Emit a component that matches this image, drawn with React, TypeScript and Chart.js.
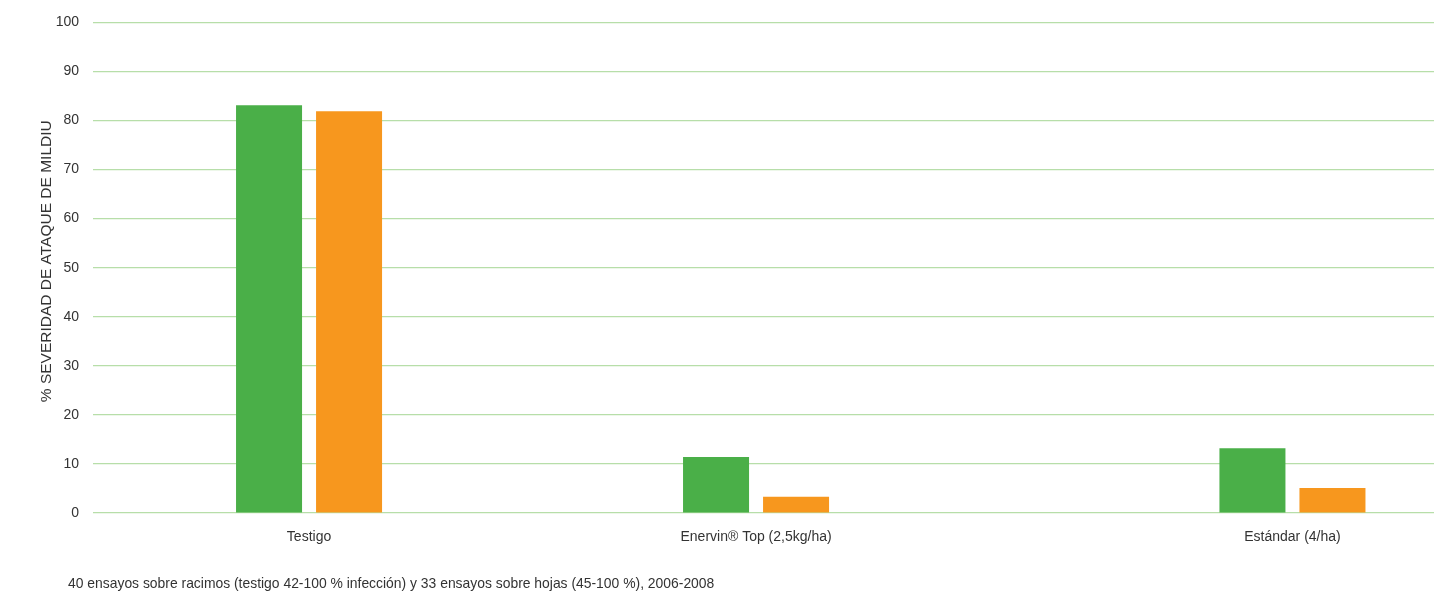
import { useEffect, useRef } from "react";
import { Chart, registerables } from "chart.js";

Chart.register(...registerables);

// ---- data ----
const categories = ["Testigo", "Enervin® Top (2,5kg/ha)", "Estándar (4/ha)"];
const seriesNames = ["Racimos", "Hojas"];
const racimosValues = [83.1, 11.4, 13.2];
const hojasValues = [81.9, 3.3, 5.1];
const yTickValues = [0, 10, 20, 30, 40, 50, 60, 70, 80, 90, 100];
const yAxisTitle = "% SEVERIDAD DE ATAQUE DE MILDIU";
const footnote =
  "40 ensayos sobre racimos (testigo 42-100 % infección) y 33 ensayos sobre hojas (45-100 %), 2006-2008";

// ---- layout (fine category slots on the x axis; the reference spaces the groups unevenly) ----
const SLOT_COUNT = 90;
const SLOT_OF_CATEGORY = [14, 44, 80];

const FONT = "'Liberation Sans', Arial, Helvetica, sans-serif";
const GREEN = "#4aaf48";
const ORANGE = "#f7971e";
const GRID = "#b7dea9";
const TEXT = "#333333";

function spread(values: number[]): (number | null)[] {
  const out: (number | null)[] = new Array(SLOT_COUNT).fill(null);
  SLOT_OF_CATEGORY.forEach((slot, i) => {
    out[slot] = values[i];
  });
  return out;
}

export default function App() {
  const canvasRef = useRef<HTMLCanvasElement | null>(null);

  useEffect(() => {
    if (!canvasRef.current) return;
    const labels: string[] = new Array(SLOT_COUNT).fill("");
    SLOT_OF_CATEGORY.forEach((slot, i) => {
      labels[slot] = categories[i];
    });

    const chart = new Chart(canvasRef.current, {
      type: "bar",
      data: {
        labels,
        datasets: [
          {
            label: seriesNames[0],
            data: spread(racimosValues),
            backgroundColor: GREEN,
            borderWidth: 0,
          },
          {
            label: seriesNames[1],
            data: spread(hojasValues),
            backgroundColor: ORANGE,
            borderWidth: 0,
          },
        ],
      },
      options: {
        animation: false,
        responsive: false,
        maintainAspectRatio: false,
        devicePixelRatio: 1,
        layout: { padding: { top: 22, right: 1, left: 0, bottom: 0 } },
        datasets: {
          bar: {
            // group width ≈ 160px out of a ~14.9px slot, bars 66px wide
            categoryPercentage: 10.74,
            barPercentage: 0.825,
          },
        },
        plugins: {
          legend: { display: false },
          tooltip: { enabled: false },
          title: { display: false },
        },
        scales: {
          x: {
            type: "category",
            offset: true,
            grid: { display: false, drawTicks: false },
            border: { display: false },
            ticks: {
              autoSkip: false,
              maxRotation: 0,
              minRotation: 0,
              padding: 16,
              color: TEXT,
              font: { family: FONT, size: 14 },
            },
            afterFit: (s: any) => {
              s.height = 81;
              s.paddingLeft = 0;
              s.paddingRight = 0;
            },
          },
          y: {
            min: 0,
            max: 100,
            afterBuildTicks: (s: any) => {
              s.ticks = yTickValues.map((v) => ({ value: v }));
            },
            grid: { color: GRID, lineWidth: 1.2, drawTicks: false },
            border: { display: false },
            ticks: {
              padding: 14,
              color: TEXT,
              font: { family: FONT, size: 14 },
            },
            title: {
              display: true,
              text: "\u00a0\u00a0\u00a0" + yAxisTitle,
              color: TEXT,
              font: { family: FONT, size: 15.5, weight: "normal" },
              padding: { top: 37, bottom: 0 },
            },
            afterFit: (s: any) => {
              s.width = 93;
            },
          },
        },
      },
    });
    return () => chart.destroy();
  }, []);

  return (
    <div
      style={{
        position: "fixed",
        left: 0,
        top: 0,
        width: 1435,
        height: 594,
        background: "#ffffff",
      }}
    >
      <canvas ref={canvasRef} width={1435} height={594} style={{ width: 1435, height: 594, display: "block" }} />
      <div
        style={{
          position: "absolute",
          left: 68,
          top: 575,
          fontFamily: FONT,
          fontSize: 13.9,
          color: TEXT,
          whiteSpace: "nowrap",
          lineHeight: "16px",
        }}
      >
        {footnote}
      </div>
    </div>
  );
}
